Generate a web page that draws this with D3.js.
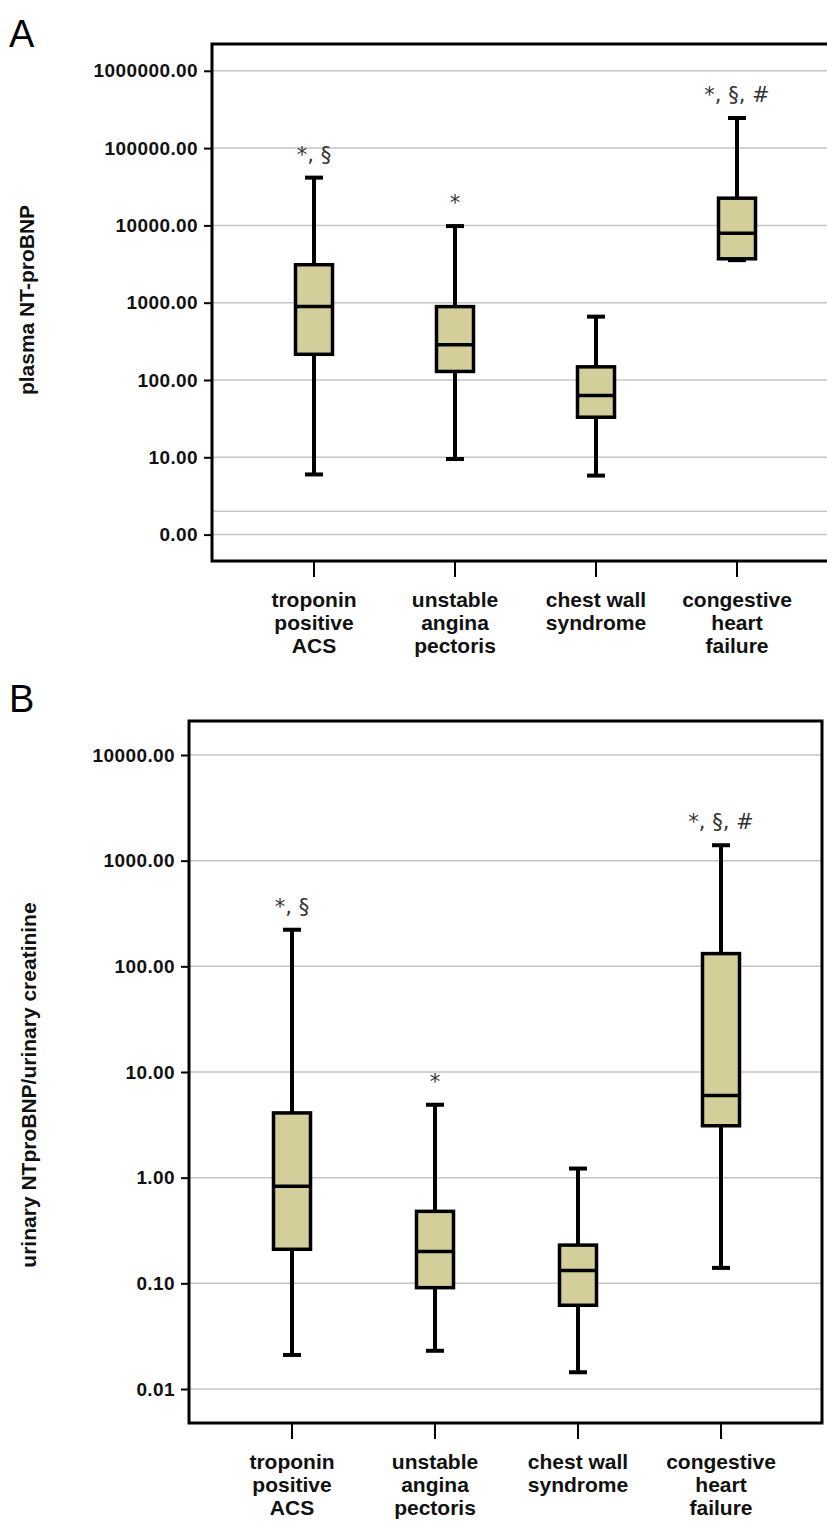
<!DOCTYPE html>
<html><head><meta charset="utf-8">
<script src="https://cdn.jsdelivr.net/npm/d3@7"></script>
<style>body{margin:0;background:#fff}</style>
</head><body>
<svg id="chart" width="827" height="1522"></svg>
<script>
// categories (each label split into lines)
const categories = [
  ["troponin", "positive", "ACS"],
  ["unstable", "angina", "pectoris"],
  ["chest wall", "syndrome"],
  ["congestive", "heart", "failure"]
];

// panel A: plasma NT-proBNP  [min, q1, median, q3, max]
const plasmaBoxes = [
  [6.0, 215, 890, 3100, 41500],
  [9.5, 129, 285, 890, 9800],
  [5.8, 33, 63, 148, 660],
  [3550, 3700, 7900, 22500, 245000]
];
const plasmaMarks = ["*, §", "*", "", "*, §, #"];
const plasmaTicks = [1, 10, 100, 1000, 10000, 100000, 1000000];
const plasmaTickLabels = ["0.00", "10.00", "100.00", "1000.00", "10000.00", "100000.00", "1000000.00"];
const plasmaExtraLine = 2;

// panel B: urinary NTproBNP / urinary creatinine
const urineBoxes = [
  [0.021, 0.21, 0.83, 4.1, 222],
  [0.023, 0.091, 0.20, 0.48, 4.9],
  [0.0144, 0.062, 0.132, 0.23, 1.22],
  [0.14, 3.1, 6.0, 132, 1400]
];
const urineMarks = ["*, §", "*", "", "*, §, #"];
const urineTicks = [0.01, 0.1, 1, 10, 100, 1000, 10000];
const urineTickLabels = ["0.01", "0.10", "1.00", "10.00", "100.00", "1000.00", "10000.00"];

const svg = d3.select("#chart");
const boldFont = "'Liberation Sans', Arial, sans-serif";

function panel(o) {
  const g = svg.append("g");
  const y = d3.scaleLog().domain(o.domain).range([o.y1Val, o.y0Val]);
  const x = d3.scalePoint().domain(d3.range(categories.length)).range(o.xr);

  // gridlines
  g.selectAll("line.grid").data(o.ticks.concat(o.extra || []))
    .join("line")
      .attr("x1", o.left).attr("x2", o.right)
      .attr("y1", d => y(d)).attr("y2", d => y(d))
      .attr("stroke", "#c4c4c4").attr("stroke-width", 1.5);

  // y axis
  const yAxis = d3.axisLeft(y).tickValues(o.ticks)
    .tickFormat((d, i) => o.tickLabels[i]).tickSize(8).tickPadding(6);
  const ya = g.append("g").attr("transform", `translate(${o.left},0)`).call(yAxis);
  ya.select(".domain").remove();
  ya.selectAll("line").attr("stroke", "#000").attr("stroke-width", 2);
  ya.selectAll("text").attr("font-family", boldFont).attr("font-weight", "bold")
    .attr("font-size", 19).attr("letter-spacing", 0.4).attr("fill", "#111");

  // x axis ticks
  g.selectAll("line.xt").data(x.domain()).join("line")
    .attr("x1", d => x(d)).attr("x2", d => x(d))
    .attr("y1", o.bottom).attr("y2", o.bottom + 16)
    .attr("stroke", "#000").attr("stroke-width", 2);

  // x labels
  g.selectAll("text.xl").data(x.domain()).join("text")
    .attr("x", d => x(d)).attr("y", o.bottom + 46)
    .attr("text-anchor", "middle")
    .attr("font-family", boldFont).attr("font-weight", "bold")
    .attr("font-size", 21).attr("fill", "#111")
    .each(function (d) {
      d3.select(this).selectAll("tspan").data(categories[d]).join("tspan")
        .attr("x", x(d)).attr("dy", (t, i) => i ? 23 : 0).text(t => t);
    });

  // boxes
  const bw = 18.5, cw = 9;
  const b = g.selectAll("g.box").data(o.boxes).join("g")
    .attr("transform", (d, i) => `translate(${x(i)},0)`);
  b.append("line").attr("y1", d => y(d[0])).attr("y2", d => y(d[4]))
    .attr("stroke", "#000").attr("stroke-width", 4);
  b.append("line").attr("x1", -cw).attr("x2", cw).attr("y1", d => y(d[0])).attr("y2", d => y(d[0]))
    .attr("stroke", "#000").attr("stroke-width", 4);
  b.append("line").attr("x1", -cw).attr("x2", cw).attr("y1", d => y(d[4])).attr("y2", d => y(d[4]))
    .attr("stroke", "#000").attr("stroke-width", 4);
  b.append("rect").attr("x", -bw).attr("width", 2 * bw)
    .attr("y", d => y(d[3])).attr("height", d => y(d[1]) - y(d[3]))
    .attr("fill", "#d4cf9a").attr("stroke", "#000").attr("stroke-width", 3.5);
  b.append("line").attr("x1", -bw).attr("x2", bw).attr("y1", d => y(d[2])).attr("y2", d => y(d[2]))
    .attr("stroke", "#000").attr("stroke-width", 3.5);
  b.append("text").attr("text-anchor", "middle")
    .attr("y", d => y(d[4]) - 16)
    .attr("font-family", "'DejaVu Sans', sans-serif").attr("font-size", 21).attr("fill", "#333")
    .text((d, i) => o.marks[i]);

  // frame
  g.append("rect").attr("x", o.left).attr("y", o.top)
    .attr("width", o.right - o.left).attr("height", o.bottom - o.top)
    .attr("fill", "none").attr("stroke", "#000").attr("stroke-width", 3);

  // y title
  g.append("text").attr("transform", `translate(${o.titleX},${o.titleY}) rotate(-90)`)
    .attr("text-anchor", "middle").attr("font-family", boldFont)
    .attr("font-weight", "bold").attr("font-size", 21).attr("fill", "#111")
    .text(o.title);

  // panel letter
  svg.append("text").attr("x", 9).attr("y", o.letterY)
    .attr("font-family", boldFont).attr("font-size", 38)
    .text(o.letter);
}

panel({
  boxes: plasmaBoxes, marks: plasmaMarks, ticks: plasmaTicks, tickLabels: plasmaTickLabels,
  extra: [plasmaExtraLine],
  domain: [1, 1000000], y0Val: 70.8, y1Val: 534.6,
  left: 212, right: 832, top: 44, bottom: 561, xr: [314, 737],
  titleX: 34, titleY: 300, title: "plasma NT-proBNP", letter: "A", letterY: 47
});

panel({
  boxes: urineBoxes, marks: urineMarks, ticks: urineTicks, tickLabels: urineTickLabels,
  domain: [0.01, 10000], y0Val: 755, y1Val: 1389,
  left: 189, right: 822, top: 721, bottom: 1423, xr: [292, 721],
  titleX: 36, titleY: 1085, title: "urinary NTproBNP/urinary creatinine", letter: "B", letterY: 712
});
</script>
</body></html>
